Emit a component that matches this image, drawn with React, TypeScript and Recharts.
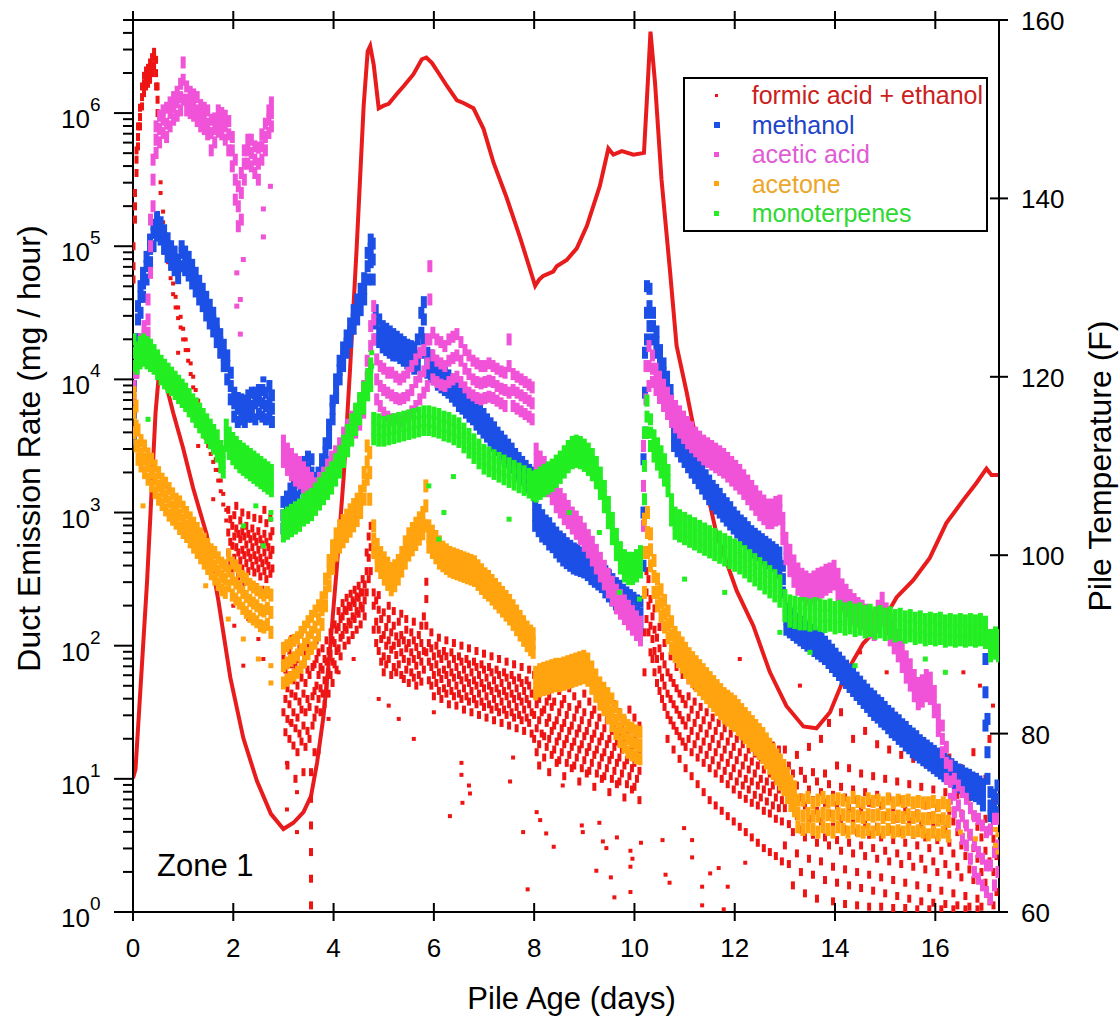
import React from 'react';
import { ComposedChart, Scatter, Line, XAxis, YAxis, Legend } from 'recharts';

const FONT = '"Liberation Sans", Arial, Helvetica, sans-serif';

// axis ticks
const dayTicks = [0, 2, 4, 6, 8, 10, 12, 14, 16];
const tempTicks = [60, 80, 100, 120, 140, 160];
const decades = [1, 10, 100, 1e3, 1e4, 1e5, 1e6];
const rateTicks = decades
  .flatMap((d) => [1, 2, 3, 4, 5, 6, 7, 8, 9].map((m) => m * d))
  .filter((v) => v <= 5e6);

// pile temperature (F) against pile age (days)
const tempDays = [
  0, 0.05, 0.28, 0.45, 0.53, 0.62, 0.8, 1.0, 1.2, 1.47, 1.7, 1.94, 2.2, 2.47, 2.75, 3.0, 3.2, 3.4, 3.55,
  3.67, 3.8, 3.93, 4.07, 4.2, 4.33, 4.46, 4.6, 4.68, 4.73, 4.8, 4.9, 5.0, 5.1, 5.26, 5.4, 5.59, 5.76,
  5.85, 5.96, 6.1, 6.26, 6.46, 6.59, 6.79, 6.99, 7.19, 7.45, 7.72, 8.02, 8.1, 8.18, 8.38, 8.45, 8.65,
  8.85, 9.05, 9.31, 9.48, 9.58, 9.75, 9.98, 10.19, 10.26, 10.32, 10.41, 10.54, 10.71, 10.84, 11.04,
  11.31, 11.64, 12.04, 12.37, 12.7, 13.03, 13.37, 13.63, 13.9, 14.23, 14.56, 14.9, 15.23, 15.56, 15.89,
  16.22, 16.56, 16.82, 17.02, 17.12, 17.25,
];
const tempF = [
  75, 76, 97, 116, 121.2, 120, 116, 112, 107.5, 102.3, 95, 86.3, 79.5, 74.7, 71, 69.3, 70, 71.2, 73,
  76.7, 82, 89.5, 99, 108.7, 121, 134.4, 150.4, 156.5, 157.1, 155, 150.1, 150.4, 150.6, 151.7, 152.6,
  153.9, 155.6, 155.8, 155.2, 154, 152.6, 151, 150.7, 150.1, 147.8, 144, 140.1, 135.6, 130.2, 130.9,
  131.3, 131.8, 132.4, 133.1, 134.4, 136.9, 141.4, 145.6, 144.9, 145.3, 144.9, 145.1, 152.3, 158.7, 153,
  142.1, 131.8, 123.5, 118.3, 110.6, 102.3, 96, 92.1, 86.9, 83.1, 80.8, 80.6, 82.4, 86.9, 90.1, 92.1,
  95.3, 97.2, 99.7, 103.6, 106.2, 108.1, 109.7, 109, 109,
];

// emission rates as log10(mg/hour); each row: [day, reading, reading, ...]
const formicRows = [
  [0.01, 4.75, 4.85, 5.0], [0.04, 5.2, 5.3, 5.4], [0.07, 5.55, 5.65, 5.72], [0.1, 5.75, 5.82, 5.9],
  [0.14, 5.9, 5.97, 6.04], [0.18, 6.05, 6.12, 6.2], [0.22, 6.15, 6.22, 6.28], [0.26, 6.2, 6.26, 6.32],
  [0.3, 6.22, 6.28, 6.34], [0.34, 6.25, 6.32, 6.38], [0.38, 6.3, 6.36, 6.42], [0.42, 6.35, 6.42, 6.46],
  [0.46, 6.2, 6.3, 6.4], [0.49, 6.0, 6.1, 6.2],
  [0.55, 5.4, 5.48], [0.6, 5.18, 5.26], [0.65, 5.01, 5.09], [0.7, 4.88, 4.96], [0.75, 4.76, 4.84],
  [0.8, 4.64, 4.72], [0.85, 4.54, 4.62], [0.9, 4.46, 4.54], [0.95, 4.39, 4.47], [1.0, 4.3, 4.38],
  [1.05, 4.22, 4.3], [1.1, 4.14, 4.22], [1.15, 4.04, 4.12], [1.2, 3.94, 4.02], [1.25, 3.84, 3.92],
  [1.3, 3.76, 3.84], [1.35, 3.69, 3.77], [1.4, 3.62, 3.7], [1.45, 3.56, 3.64], [1.5, 3.5, 3.58],
  [1.55, 3.44, 3.52], [1.6, 3.38, 3.46], [1.65, 3.32, 3.4], [1.7, 3.24, 3.32], [1.75, 3.16, 3.24],
  [1.8, 3.06, 3.14], [1.86, 2.94, 3.02],
  [1.9, 2.7, 2.85, 3.02], [1.94, 2.62, 2.78, 2.95], [1.98, 2.75, 2.9, 2.58], [2.02, 2.66, 2.82, 2.98],
  [2.06, 2.6, 2.74, 2.88, 3.05], [2.1, 2.7, 2.84, 2.52], [2.14, 2.64, 2.8, 2.94], [2.18, 2.58, 2.72, 2.86, 3.0],
  [2.22, 2.68, 2.82, 2.48], [2.26, 2.62, 2.76, 2.9], [2.3, 2.56, 2.7, 2.84, 2.98], [2.34, 2.66, 2.8, 2.46],
  [2.38, 2.6, 2.74, 2.88], [2.42, 2.55, 2.68, 2.82, 2.96], [2.46, 2.64, 2.78, 2.44], [2.5, 2.58, 2.72, 2.86],
  [2.54, 2.52, 2.66, 2.8, 2.95], [2.58, 2.62, 2.76, 2.42], [2.62, 2.56, 2.7, 2.84, 3.02],
  [2.66, 2.5, 2.64, 2.78, 2.92], [2.7, 2.6, 2.74, 2.4], [2.74, 2.54, 2.68, 2.82, 2.96], [2.78, 2.58, 2.72, 2.86],
  [3.0, 1.5, 1.72, 1.9], [3.04, 1.35, 1.6, 1.82, 2.0], [3.08, 1.45, 1.68, 1.88, 1.1], [3.12, 1.3, 1.56, 1.78, 1.96],
  [3.16, 1.42, 1.64, 1.86, 2.05], [3.2, 1.25, 1.5, 1.74, 1.92], [3.24, 1.38, 1.62, 1.84, 1.0],
  [3.28, 1.2, 1.46, 1.7, 1.9], [3.32, 1.34, 1.58, 1.8, 1.98], [3.36, 1.28, 1.52, 1.76, 2.1],
  [3.4, 1.4, 1.64, 1.86, 1.05], [3.44, 1.24, 1.5, 1.72, 1.94], [3.48, 1.36, 1.6, 1.82, 2.02],
  [3.52, 1.3, 1.54, 1.78, 1.96], [3.55, 0.05, 0.25, 0.45, 0.65, 0.85, 1.05], [3.58, 1.4, 1.62, 1.84, 2.0],
  [3.62, 1.46, 1.66, 1.86, 1.2], [3.66, 1.52, 1.7, 1.9, 2.04],
  [3.7, 1.6, 1.78, 1.95], [3.74, 1.68, 1.84, 1.5], [3.78, 1.64, 1.82, 1.98], [3.82, 1.74, 1.9, 1.56],
  [3.86, 1.7, 1.88, 2.04], [3.9, 1.8, 1.96, 1.64], [3.94, 1.78, 1.94, 2.1], [3.98, 1.88, 2.04, 1.72],
  [4.02, 1.86, 2.02, 2.16], [4.06, 1.96, 2.12, 1.82], [4.1, 1.98, 2.14, 2.26], [4.14, 2.06, 2.2, 1.92],
  [4.18, 2.08, 2.22, 2.32], [4.22, 2.14, 2.27, 2.0], [4.26, 2.12, 2.26, 2.36], [4.3, 2.18, 2.3, 2.04],
  [4.34, 2.16, 2.29, 2.39], [4.38, 2.22, 2.34, 2.08], [4.42, 2.2, 2.32, 2.42], [4.46, 2.26, 2.37, 2.12],
  [4.5, 2.24, 2.36, 2.45], [4.54, 2.3, 2.4, 2.16], [4.58, 2.28, 2.4, 2.5], [4.62, 2.34, 2.46, 2.22],
  [4.66, 2.4, 2.56, 2.7], [4.7, 2.5, 2.66, 2.82], [4.74, 2.56, 2.74, 2.9],
  [4.8, 2.12, 2.3, 2.4], [4.85, 2.02, 2.18, 2.34], [4.9, 1.96, 2.12, 2.27, 2.38], [4.95, 2.05, 2.2, 1.88],
  [5.0, 1.92, 2.08, 2.25, 1.8], [5.05, 2.0, 2.14, 1.86], [5.1, 1.9, 2.04, 2.2, 2.3], [5.15, 1.97, 2.1, 1.78],
  [5.2, 1.84, 2.0, 2.15, 2.26], [5.25, 1.93, 2.07, 1.8], [5.3, 1.86, 2.02, 2.18], [5.35, 1.78, 1.95, 2.08, 2.24],
  [5.4, 1.9, 2.04, 1.75], [5.45, 1.82, 1.98, 2.12, 2.2], [5.5, 1.88, 2.02, 1.72], [5.55, 1.8, 1.95, 2.1],
  [5.6, 1.76, 1.9, 2.04, 2.18], [5.65, 1.85, 1.99, 1.7], [5.7, 1.78, 1.93, 2.08], [5.75, 1.73, 1.88, 2.02, 2.15],
  [5.8, 1.82, 1.96, 2.22], [5.85, 1.95, 2.15, 2.35, 2.48], [5.9, 1.74, 1.88, 2.02], [5.95, 1.7, 1.84, 1.98, 2.1],
  [6.0, 1.78, 1.92, 1.62], [6.05, 1.72, 1.86, 2.0], [6.1, 1.66, 1.8, 1.94, 2.06], [6.15, 1.75, 1.9, 1.6],
  [6.2, 1.68, 1.82, 1.96], [6.25, 1.64, 1.78, 1.92, 2.04], [6.3, 1.72, 1.86, 1.56], [6.35, 1.66, 1.8, 1.95],
  [6.4, 1.62, 1.76, 1.9, 2.02], [6.45, 1.7, 1.84, 1.55], [6.5, 1.64, 1.78, 1.92], [6.55, 1.6, 1.74, 1.88, 2.0],
  [6.6, 1.68, 1.82, 1.52], [6.65, 1.62, 1.76, 1.9], [6.7, 1.58, 1.72, 1.86, 1.98], [6.75, 1.66, 1.8, 1.5],
  [6.8, 1.6, 1.74, 1.88], [6.85, 1.56, 1.7, 1.84, 1.96], [6.9, 1.64, 1.78, 1.48], [6.95, 1.58, 1.72, 1.86],
  [7.0, 1.54, 1.68, 1.82, 1.94], [7.05, 1.62, 1.76, 1.46], [7.1, 1.56, 1.7, 1.84], [7.15, 1.52, 1.66, 1.8, 1.92],
  [7.2, 1.6, 1.74, 1.44], [7.25, 1.54, 1.68, 1.82], [7.3, 1.5, 1.64, 1.78, 1.9], [7.35, 1.58, 1.72, 1.42],
  [7.4, 1.52, 1.66, 1.8], [7.45, 1.48, 1.62, 1.76, 1.88], [7.5, 1.56, 1.7, 1.4], [7.55, 1.5, 1.64, 1.78],
  [7.6, 1.46, 1.6, 1.74, 1.86], [7.65, 1.54, 1.68, 1.38], [7.7, 1.48, 1.62, 1.76], [7.75, 1.44, 1.58, 1.72, 1.84],
  [7.8, 1.52, 1.66, 1.36], [7.85, 1.46, 1.6, 1.74], [7.9, 1.42, 1.56, 1.7, 1.82], [7.95, 1.5, 1.64, 1.34],
  [8.0, 1.3, 1.48, 1.64, 1.78], [8.05, 1.2, 1.38, 1.56], [8.1, 1.26, 1.44, 1.6, 1.1], [8.15, 1.34, 1.5, 1.68],
  [8.2, 1.16, 1.32, 1.52, 1.7], [8.25, 1.24, 1.42, 1.58], [8.3, 1.3, 1.46, 1.62, 1.05], [8.35, 1.18, 1.36, 1.54],
  [8.4, 1.22, 1.4, 1.58, 1.72], [8.45, 1.28, 1.44, 1.12], [8.5, 1.14, 1.32, 1.5, 1.66], [8.55, 1.2, 1.38, 1.56],
  [8.6, 1.26, 1.42, 1.6, 1.02], [8.65, 1.12, 1.3, 1.48], [8.7, 1.18, 1.36, 1.54, 1.68], [8.75, 1.24, 1.4, 1.08],
  [8.8, 1.1, 1.28, 1.46, 1.62], [8.85, 1.16, 1.34, 1.52], [8.9, 1.22, 1.38, 1.56, 0.98], [8.95, 1.08, 1.26, 1.44],
  [9.0, 1.14, 1.32, 1.5, 1.64], [9.05, 1.2, 1.36, 1.04], [9.1, 1.06, 1.24, 1.42, 1.58], [9.15, 1.12, 1.3, 1.48],
  [9.2, 1.18, 1.34, 1.52, 0.94], [9.25, 1.04, 1.22, 1.4], [9.3, 1.1, 1.28, 1.46, 1.6], [9.35, 1.16, 1.32, 1.0],
  [9.4, 1.02, 1.2, 1.38, 1.54], [9.45, 1.08, 1.26, 1.44], [9.5, 1.14, 1.3, 1.48, 0.9], [9.55, 1.0, 1.18, 1.36],
  [9.6, 1.06, 1.24, 1.42, 1.56], [9.65, 1.12, 1.28, 0.96], [9.7, 0.98, 1.16, 1.34, 1.5], [9.75, 1.04, 1.22, 1.4],
  [9.8, 1.1, 1.26, 1.44, 0.86], [9.85, 0.96, 1.14, 1.32], [9.9, 1.02, 1.2, 1.38, 1.52], [9.95, 1.08, 1.24, 0.92],
  [10.0, 0.94, 1.12, 1.3, 1.46], [10.05, 1.0, 1.18, 1.36], [10.1, 1.06, 1.22, 1.4, 0.84],
  [10.2, 1.8, 2.1, 2.4], [10.24, 2.2, 2.4, 2.56], [10.28, 2.1, 2.3, 2.5], [10.32, 1.95, 2.15, 2.35],
  [10.36, 1.9, 2.05, 2.22], [10.4, 1.8, 1.96, 2.12, 2.28], [10.45, 1.72, 1.9, 2.06], [10.5, 1.66, 1.82, 1.98, 2.14],
  [10.55, 1.6, 1.76, 1.92], [10.6, 1.54, 1.7, 1.86, 2.02], [10.66, 1.48, 1.64, 1.8, 1.3], [10.72, 1.44, 1.6, 1.76, 1.92],
  [10.78, 1.4, 1.56, 1.72, 1.22], [10.84, 1.36, 1.52, 1.68, 1.84], [10.9, 1.32, 1.48, 1.64, 1.15],
  [10.96, 1.28, 1.44, 1.6, 1.78], [11.02, 1.24, 1.4, 1.56, 1.08], [11.08, 1.3, 1.46, 1.62, 1.74],
  [11.14, 1.2, 1.36, 1.52, 1.02], [11.2, 1.26, 1.42, 1.58, 1.7], [11.26, 1.16, 1.32, 1.48, 0.96],
  [11.32, 1.22, 1.38, 1.54, 1.66], [11.38, 1.12, 1.28, 1.44, 0.9], [11.44, 1.18, 1.34, 1.5, 1.62],
  [11.5, 1.08, 1.24, 1.4, 0.84], [11.56, 1.14, 1.3, 1.46, 1.58], [11.62, 1.04, 1.2, 1.36, 0.8],
  [11.68, 1.1, 1.26, 1.42, 1.55], [11.74, 1.0, 1.16, 1.32, 0.76], [11.8, 1.06, 1.22, 1.38, 1.52],
  [11.86, 0.96, 1.12, 1.28, 0.72], [11.92, 1.02, 1.18, 1.34, 1.48], [11.98, 0.92, 1.08, 1.24, 0.68],
  [12.04, 0.98, 1.14, 1.3, 1.45], [12.1, 0.88, 1.04, 1.2, 0.64], [12.16, 0.95, 1.1, 1.26, 1.42],
  [12.22, 0.85, 1.0, 1.16, 0.6], [12.28, 0.92, 1.07, 1.22, 1.38], [12.34, 0.82, 0.98, 1.13, 0.56],
  [12.4, 0.88, 1.04, 1.19, 1.35], [12.46, 0.8, 0.95, 1.1, 0.52], [12.52, 0.86, 1.0, 1.16, 1.32],
  [12.58, 0.76, 0.92, 1.07, 0.48], [12.64, 0.83, 0.98, 1.13, 1.28], [12.7, 0.74, 0.9, 1.04, 0.45],
  [12.76, 0.8, 0.95, 1.1, 1.25], [12.82, 0.7, 0.86, 1.0, 0.42], [12.88, 0.78, 0.92, 1.06, 1.22],
  [12.94, 0.68, 0.84, 0.98, 0.38],
  [13.0, 0.5, 0.78, 0.98, 1.22], [13.08, 0.36, 0.66, 0.9, 1.1], [13.16, 0.6, 0.84, 1.04, 0.2],
  [13.24, 0.44, 0.72, 0.95, 1.18], [13.32, 0.3, 0.62, 0.86, 1.06], [13.4, 0.56, 0.8, 1.0, 0.14],
  [13.48, 0.4, 0.7, 0.92, 1.24], [13.56, 0.28, 0.58, 0.84, 1.05], [13.64, 0.52, 0.76, 0.98, 0.1],
  [13.72, 0.38, 0.68, 0.9, 1.3], [13.8, 0.24, 0.56, 0.82, 1.04], [13.88, 0.5, 0.74, 0.96, 1.42],
  [13.96, 0.34, 0.64, 0.88, 0.08], [14.04, 0.22, 0.54, 0.8, 1.1], [14.12, 0.46, 0.7, 0.94, 1.5],
  [14.2, 0.32, 0.62, 0.86, 0.06], [14.28, 0.2, 0.52, 0.78, 1.08], [14.36, 0.44, 0.68, 0.92, 1.3],
  [14.44, 0.3, 0.6, 0.84, 0.05], [14.52, 0.18, 0.5, 0.76, 1.04], [14.6, 0.42, 0.66, 0.9, 1.36],
  [14.68, 0.28, 0.58, 0.82, 0.04], [14.76, 0.16, 0.48, 0.74, 1.02], [14.84, 0.4, 0.64, 0.88, 1.26],
  [14.92, 0.26, 0.56, 0.8, 0.04], [15.0, 0.14, 0.46, 0.72, 1.0], [15.08, 0.38, 0.62, 0.86, 1.22],
  [15.16, 0.24, 0.54, 0.78, 0.03], [15.24, 0.12, 0.44, 0.7, 0.98], [15.32, 0.36, 0.6, 0.84, 1.18],
  [15.4, 0.22, 0.52, 0.76, 0.03], [15.48, 0.1, 0.42, 0.68, 0.96], [15.56, 0.34, 0.58, 0.82, 1.15],
  [15.64, 0.2, 0.5, 0.74, 0.02], [15.72, 0.08, 0.4, 0.66, 0.94], [15.8, 0.32, 0.56, 0.8, 1.12],
  [15.88, 0.18, 0.48, 0.72, 0.02], [15.96, 0.07, 0.38, 0.64, 0.92], [16.04, 0.3, 0.54, 0.78, 1.1],
  [16.12, 0.16, 0.46, 0.7, 0.02], [16.2, 0.06, 0.36, 0.62, 0.9], [16.28, 0.28, 0.52, 0.76, 1.16],
  [16.36, 0.14, 0.44, 0.68, 0.02], [16.44, 0.05, 0.34, 0.6, 0.88], [16.52, 0.26, 0.5, 0.74, 1.08],
  [16.6, 0.12, 0.42, 0.66, 0.02], [16.68, 0.04, 0.32, 0.58, 0.86], [16.76, 0.24, 0.48, 0.72, 1.2],
  [16.84, 0.1, 0.4, 0.64, 0.02], [16.92, 0.04, 0.3, 0.56, 0.84], [17.0, 0.22, 0.46, 0.7, 1.0],
  [17.08, 0.08, 0.38, 0.62, 1.3], [17.16, 0.05, 0.3, 0.55, 0.85], [17.22, 0.15, 0.42, 0.7],
];
// scattered formic acid readings away from the main cloud
const formicStray = [
  [6.32, 0.72], [6.57, 0.82], [6.55, 1.03], [6.7, 0.95], [6.72, 0.89], [6.55, 1.12], [7.58, 1.16],
  [7.78, 0.6], [7.87, 0.17], [8.05, 0.75], [8.12, 0.69], [8.24, 0.59], [8.39, 0.49], [8.57, 0.95],
  [8.95, 0.65], [8.97, 0.6], [9.24, 0.31], [9.3, 0.67], [9.37, 0.53], [9.44, 0.48], [9.53, 0.26],
  [9.6, 0.11], [9.65, 0.56], [9.92, 0.15], [9.92, 0.34], [9.92, 0.46], [9.96, 0.4], [10.13, 0.52],
  [10.56, 0.54], [10.62, 0.28], [10.7, 0.22], [10.99, 0.63], [11.15, 0.54], [11.15, 0.41],
  [11.35, 0.19], [11.35, 0.05], [11.51, 0.29], [11.68, 0.33], [11.78, 0.02], [11.86, 0.19],
  [12.21, 0.37], [7.52, 0.98], [5.3, 1.45], [5.6, 1.3], [6.0, 1.5], [4.9, 1.6], [5.1, 1.55],
  [3.07, 1.12], [3.27, 0.9], [3.14, 1.42], [3.07, 0.77], [3.27, 0.6], [2.0, 2.3], [2.02, 2.15],
  [2.3, 2.2], [2.5, 2.05], [2.7, 2.25], [2.6, 1.9], [2.2, 1.85], [1.6, 3.1], [0.9, 4.2], [1.3, 3.5],
  [12.1, 1.9], [13.3, 1.7], [14.16, 1.85], [14.5, 1.95], [15.03, 1.8], [15.43, 1.75], [15.9, 1.6],
  [16.56, 1.8], [16.89, 1.7], [17.15, 1.55], [3.7, 1.2], [3.9, 1.45], [4.1, 1.8], [4.4, 1.9],
];

const methanolRows = [
  [0.02, 3.55, 3.75, 3.95], [0.05, 4.05, 4.2, 4.3], [0.1, 4.3, 4.45, 4.55], [0.15, 4.5, 4.62, 4.7],
  [0.2, 4.62, 4.72, 4.8], [0.27, 4.75, 4.85, 4.92], [0.34, 4.88, 4.98, 5.05], [0.41, 5.0, 5.1, 5.16],
  [0.48, 5.08, 5.15, 5.22], [0.55, 5.05, 5.12, 5.18], [0.62, 4.98, 5.06, 5.12], [0.69, 4.92, 5.0, 5.06],
  [0.76, 4.86, 4.94, 5.0], [0.83, 4.82, 4.9, 4.96], [0.9, 4.76, 4.84, 4.9], [0.97, 4.85, 4.95, 5.0],
  [1.04, 4.82, 4.9, 4.96], [1.11, 4.78, 4.85, 4.92], [1.18, 4.72, 4.8, 4.86], [1.25, 4.66, 4.74, 4.8],
  [1.32, 4.6, 4.68, 4.74], [1.39, 4.55, 4.62, 4.68], [1.46, 4.48, 4.56, 4.62], [1.53, 4.42, 4.5, 4.56],
  [1.6, 4.36, 4.44, 4.5], [1.67, 4.28, 4.36, 4.42], [1.74, 4.2, 4.28, 4.34], [1.81, 4.1, 4.18, 4.26],
  [1.88, 4.0, 4.1, 4.18], [1.95, 3.85, 3.95, 4.05], [2.02, 3.72, 3.82, 3.9], [2.09, 3.68, 3.78, 3.86],
  [2.16, 3.7, 3.78, 3.85], [2.23, 3.68, 3.76, 3.84], [2.3, 3.72, 3.8, 3.88], [2.37, 3.72, 3.8, 3.9],
  [2.44, 3.7, 3.82, 3.9], [2.51, 3.74, 3.84, 3.92], [2.58, 3.72, 3.82, 3.92], [2.65, 3.7, 3.8, 3.9],
  [2.72, 3.72, 3.82, 3.95], [2.77, 3.68, 3.78, 3.88], [2.6, 4.0],
  [3.0, 2.88, 2.98, 3.08], [3.07, 2.95, 3.05, 3.12], [3.14, 3.0, 3.1, 3.18], [3.21, 3.08, 3.16, 3.24],
  [3.28, 3.12, 3.22, 3.3], [3.35, 3.18, 3.27, 3.34], [3.42, 3.22, 3.3, 3.38], [3.49, 3.25, 3.33, 3.42],
  [3.56, 3.2, 3.3, 3.4], [3.63, 3.08, 3.16, 3.26], [3.7, 3.12, 3.22, 3.3], [3.77, 3.25, 3.33, 3.4],
  [3.84, 3.38, 3.45, 3.52], [3.91, 3.52, 3.6, 3.66], [3.98, 3.7, 3.78, 3.84], [4.05, 3.86, 3.93, 4.0],
  [4.12, 4.0, 4.07, 4.14], [4.19, 4.1, 4.17, 4.24], [4.26, 4.2, 4.27, 4.33], [4.33, 4.28, 4.35, 4.42],
  [4.4, 4.38, 4.45, 4.52], [4.47, 4.45, 4.52, 4.6], [4.54, 4.52, 4.6, 4.68], [4.61, 4.6, 4.68, 4.76],
  [4.68, 4.75, 4.85, 4.95], [4.74, 4.88, 4.98, 5.05], [4.78, 4.75, 4.9, 5.02],
  [4.84, 4.3, 4.42, 4.52], [4.91, 4.28, 4.36, 4.45], [4.98, 4.24, 4.32, 4.4], [5.05, 4.22, 4.3, 4.38],
  [5.12, 4.2, 4.28, 4.36], [5.19, 4.18, 4.26, 4.34], [5.26, 4.18, 4.25, 4.32], [5.33, 4.16, 4.24, 4.3],
  [5.4, 4.14, 4.22, 4.28], [5.47, 4.12, 4.2, 4.26], [5.54, 4.1, 4.18, 4.25], [5.61, 4.08, 4.16, 4.24],
  [5.68, 4.1, 4.18, 4.3], [5.75, 4.2, 4.35, 4.5], [5.8, 4.3, 4.45, 4.58], [5.87, 4.05, 4.12, 4.2],
  [5.94, 4.02, 4.1, 4.18], [6.01, 4.0, 4.07, 4.14], [6.08, 3.96, 4.04, 4.1], [6.15, 3.94, 4.01, 4.08],
  [6.22, 3.92, 3.98, 4.05], [6.29, 3.9, 3.96, 4.03], [6.36, 3.87, 3.94, 4.0], [6.43, 3.84, 3.91, 3.98],
  [6.5, 3.8, 3.88, 3.95], [6.57, 3.78, 3.85, 3.92], [6.64, 3.75, 3.82, 3.88], [6.71, 3.72, 3.79, 3.85],
  [6.78, 3.7, 3.76, 3.82], [6.85, 3.66, 3.73, 3.8], [6.92, 3.63, 3.7, 3.77], [6.99, 3.6, 3.67, 3.74],
  [7.06, 3.57, 3.64, 3.7], [7.13, 3.54, 3.61, 3.67], [7.2, 3.5, 3.57, 3.64], [7.27, 3.47, 3.54, 3.6],
  [7.34, 3.44, 3.51, 3.57], [7.41, 3.41, 3.47, 3.54], [7.48, 3.38, 3.44, 3.51], [7.55, 3.34, 3.41, 3.48],
  [7.62, 3.31, 3.38, 3.44], [7.69, 3.28, 3.34, 3.41], [7.76, 3.25, 3.31, 3.38], [7.83, 3.22, 3.28, 3.35],
  [7.9, 3.19, 3.25, 3.32], [7.97, 3.17, 3.23, 3.3],
  [8.02, 2.9, 2.98, 3.06], [8.09, 2.86, 2.94, 3.02], [8.16, 2.82, 2.9, 2.98], [8.23, 2.8, 2.87, 2.94],
  [8.3, 2.76, 2.84, 2.92], [8.37, 2.74, 2.81, 2.88], [8.44, 2.7, 2.78, 2.85], [8.51, 2.67, 2.74, 2.82],
  [8.58, 2.64, 2.72, 2.8], [8.65, 2.62, 2.7, 2.77], [8.72, 2.6, 2.67, 2.75], [8.79, 2.58, 2.65, 2.73],
  [8.86, 2.57, 2.64, 2.72], [8.93, 2.56, 2.63, 2.7], [9.0, 2.55, 2.62, 2.69], [9.07, 2.53, 2.6, 2.68],
  [9.14, 2.5, 2.58, 2.66], [9.21, 2.48, 2.56, 2.64], [9.28, 2.46, 2.53, 2.6], [9.35, 2.44, 2.51, 2.58],
  [9.42, 2.4, 2.48, 2.56], [9.49, 2.37, 2.45, 2.53], [9.56, 2.34, 2.42, 2.5], [9.63, 2.31, 2.39, 2.47],
  [9.7, 2.29, 2.37, 2.45], [9.77, 2.26, 2.34, 2.42], [9.84, 2.23, 2.31, 2.4], [9.91, 2.2, 2.29, 2.38],
  [9.98, 2.18, 2.27, 2.36], [10.05, 2.16, 2.25, 2.34], [10.12, 2.15, 2.24, 2.33],
  [10.18, 2.6, 3.0, 3.4], [10.21, 3.6, 3.9, 4.2], [10.25, 4.3, 4.5, 4.7], [10.3, 4.4, 4.55, 4.68],
  [10.37, 4.3, 4.4, 4.5], [10.44, 4.2, 4.28, 4.36], [10.51, 4.08, 4.15, 4.22], [10.58, 3.98, 4.05, 4.12],
  [10.65, 3.88, 3.95, 4.02], [10.72, 3.78, 3.85, 3.92], [10.79, 3.5, 3.58, 3.66], [10.86, 3.46, 3.53, 3.6],
  [10.93, 3.42, 3.49, 3.56], [11.0, 3.38, 3.45, 3.52], [11.07, 3.34, 3.41, 3.48], [11.14, 3.3, 3.37, 3.44],
  [11.21, 3.26, 3.33, 3.4], [11.28, 3.22, 3.29, 3.36], [11.35, 3.18, 3.25, 3.32], [11.42, 3.14, 3.21, 3.28],
  [11.49, 3.1, 3.17, 3.24], [11.56, 3.06, 3.13, 3.2], [11.63, 3.03, 3.1, 3.17], [11.7, 3.0, 3.07, 3.14],
  [11.77, 2.97, 3.04, 3.1], [11.84, 2.94, 3.0, 3.07], [11.91, 2.91, 2.97, 3.04], [11.98, 2.88, 2.94, 3.0],
  [12.05, 2.85, 2.91, 2.97], [12.12, 2.82, 2.88, 2.94], [12.19, 2.79, 2.85, 2.92], [12.26, 2.76, 2.82, 2.89],
  [12.33, 2.73, 2.8, 2.86], [12.4, 2.7, 2.77, 2.84], [12.47, 2.68, 2.75, 2.82], [12.54, 2.66, 2.73, 2.8],
  [12.61, 2.64, 2.7, 2.78], [12.68, 2.62, 2.68, 2.76], [12.75, 2.6, 2.66, 2.74], [12.82, 2.58, 2.64, 2.72],
  [12.89, 2.55, 2.62, 2.7], [12.96, 2.4, 2.5, 2.6], [13.03, 2.12, 2.2, 2.28], [13.1, 2.1, 2.17, 2.24],
  [13.17, 2.08, 2.15, 2.22], [13.24, 2.06, 2.13, 2.2], [13.31, 2.04, 2.11, 2.18], [13.38, 2.02, 2.09, 2.16],
  [13.45, 2.0, 2.07, 2.14], [13.52, 1.98, 2.05, 2.12], [13.59, 1.96, 2.03, 2.1], [13.66, 1.94, 2.01, 2.08],
  [13.73, 1.92, 1.99, 2.06], [13.8, 1.9, 1.96, 2.03], [13.87, 1.87, 1.93, 2.0], [13.94, 1.84, 1.9, 1.97],
  [14.01, 1.81, 1.87, 1.94], [14.08, 1.78, 1.84, 1.91], [14.15, 1.75, 1.81, 1.88], [14.22, 1.72, 1.78, 1.85],
  [14.29, 1.69, 1.75, 1.82], [14.36, 1.66, 1.72, 1.79], [14.43, 1.63, 1.69, 1.76], [14.5, 1.6, 1.66, 1.73],
  [14.57, 1.57, 1.63, 1.7], [14.64, 1.54, 1.6, 1.67], [14.71, 1.51, 1.57, 1.64], [14.78, 1.48, 1.55, 1.62],
  [14.85, 1.46, 1.52, 1.59], [14.92, 1.43, 1.5, 1.57], [14.99, 1.41, 1.47, 1.54], [15.06, 1.38, 1.44, 1.51],
  [15.13, 1.35, 1.42, 1.49], [15.2, 1.33, 1.39, 1.46], [15.27, 1.3, 1.37, 1.44], [15.34, 1.28, 1.34, 1.41],
  [15.41, 1.25, 1.32, 1.39], [15.48, 1.23, 1.29, 1.36], [15.55, 1.2, 1.27, 1.34], [15.62, 1.18, 1.25, 1.32],
  [15.69, 1.16, 1.22, 1.29], [15.76, 1.14, 1.2, 1.27], [15.83, 1.12, 1.18, 1.25], [15.9, 1.1, 1.16, 1.23],
  [15.97, 1.08, 1.14, 1.21], [16.04, 1.06, 1.12, 1.19], [16.11, 1.04, 1.1, 1.17], [16.18, 1.02, 1.08, 1.15],
  [16.25, 1.0, 1.06, 1.13], [16.32, 0.98, 1.04, 1.11], [16.39, 0.96, 1.02, 1.09], [16.46, 0.94, 1.0, 1.07],
  [16.53, 0.93, 0.99, 1.06], [16.6, 0.91, 0.97, 1.04], [16.67, 0.9, 0.96, 1.03], [16.74, 0.88, 0.94, 1.01],
  [16.81, 0.87, 0.93, 1.0], [16.88, 0.85, 0.91, 0.98], [16.95, 0.8, 0.88, 0.96], [17.0, 1.4, 1.65, 1.9],
  [17.04, 1.0, 1.2, 1.45], [17.1, 0.72, 0.8, 0.9], [17.17, 0.7, 0.78, 0.88], [17.24, 0.75, 0.85, 0.95],
];

const aceticRows = [
  [0.02, 3.85, 3.95, 4.05], [0.08, 4.05, 4.12, 4.2], [0.15, 4.15, 4.22, 4.3], [0.22, 4.25, 4.32, 4.4],
  [0.3, 4.35, 4.45, 4.6], [0.35, 4.8, 5.0, 5.2], [0.4, 5.3, 5.5, 5.65], [0.46, 5.7, 5.8, 5.9],
  [0.53, 5.78, 5.88, 5.98], [0.6, 5.85, 5.95, 6.02], [0.67, 5.82, 5.92, 6.04], [0.74, 5.9, 6.0, 6.08],
  [0.81, 5.95, 6.04, 6.12], [0.88, 5.98, 6.08, 6.16], [0.95, 6.02, 6.12, 6.22], [1.0, 6.1, 6.25, 6.38],
  [1.07, 6.02, 6.1, 6.2], [1.14, 6.0, 6.08, 6.16], [1.21, 5.98, 6.06, 6.14], [1.28, 5.94, 6.02, 6.12],
  [1.35, 5.9, 5.98, 6.06], [1.42, 5.88, 5.96, 6.04], [1.49, 5.84, 5.92, 6.02], [1.56, 5.72, 5.85, 5.95],
  [1.63, 5.78, 5.88, 5.96], [1.7, 5.86, 5.94, 6.02], [1.77, 5.84, 5.92, 6.0], [1.84, 5.8, 5.9, 5.98],
  [1.91, 5.72, 5.84, 5.94], [1.98, 5.6, 5.72, 5.82], [2.04, 5.35, 5.5, 5.65], [2.1, 5.15, 5.3, 5.45],
  [2.16, 5.2, 5.4, 5.55], [2.22, 5.5, 5.62, 5.72], [2.29, 5.62, 5.72, 5.8], [2.36, 5.6, 5.7, 5.8],
  [2.43, 5.55, 5.65, 5.75], [2.5, 5.5, 5.62, 5.74], [2.57, 5.65, 5.75, 5.84], [2.64, 5.72, 5.82, 5.92],
  [2.71, 5.85, 5.95, 6.02], [2.76, 5.9, 6.0, 6.08], [2.07, 4.55, 4.8], [2.14, 4.34, 4.6],
  [2.2, 4.9], [2.6, 5.07, 5.28], [2.74, 5.45],
  [3.0, 3.38, 3.46, 3.54], [3.08, 3.32, 3.4, 3.48], [3.16, 3.28, 3.36, 3.44], [3.24, 3.24, 3.32, 3.4],
  [3.32, 3.22, 3.3, 3.38], [3.4, 3.18, 3.26, 3.34], [3.48, 3.14, 3.22, 3.3], [3.56, 3.1, 3.18, 3.26],
  [3.64, 3.06, 3.14, 3.22], [3.72, 3.1, 3.18, 3.26], [3.8, 3.14, 3.22, 3.3], [3.88, 3.2, 3.28, 3.36],
  [3.96, 3.26, 3.34, 3.42], [4.04, 3.3, 3.38, 3.46], [4.12, 3.36, 3.44, 3.52], [4.2, 3.44, 3.52, 3.6],
  [4.28, 3.5, 3.58, 3.66], [4.36, 3.55, 3.63, 3.72], [4.44, 3.6, 3.68, 3.76], [4.52, 3.66, 3.75, 3.84],
  [4.6, 3.75, 3.85, 3.95], [4.67, 3.9, 4.02, 4.14], [4.74, 4.1, 4.25, 4.4], [4.8, 4.3, 4.45, 4.55],
  [4.86, 3.85, 4.0, 4.15], [4.93, 3.8, 3.95, 4.1], [5.0, 3.75, 3.92, 4.08], [5.08, 3.72, 3.9, 4.05],
  [5.16, 3.7, 3.88, 4.05], [5.24, 3.7, 3.86, 4.02], [5.32, 3.68, 3.85, 4.0], [5.4, 3.7, 3.86, 4.02],
  [5.48, 3.72, 3.88, 4.05], [5.56, 3.76, 3.92, 4.1], [5.64, 3.8, 3.98, 4.15], [5.72, 3.85, 4.02, 4.2],
  [5.8, 3.9, 4.06, 4.22], [5.87, 3.95, 4.12, 4.3], [5.92, 4.3, 4.6, 4.85], [5.98, 4.0, 4.18, 4.35],
  [6.06, 3.98, 4.14, 4.3], [6.14, 3.96, 4.12, 4.28], [6.22, 3.95, 4.1, 4.25], [6.3, 3.98, 4.14, 4.3],
  [6.38, 4.0, 4.16, 4.32], [6.46, 4.02, 4.18, 4.34], [6.54, 3.98, 4.14, 4.28], [6.62, 3.94, 4.08, 4.22],
  [6.7, 3.9, 4.04, 4.18], [6.78, 3.88, 4.0, 4.14], [6.86, 3.86, 3.98, 4.12], [6.94, 3.85, 3.97, 4.1],
  [7.02, 3.86, 3.98, 4.1], [7.1, 3.87, 3.99, 4.12], [7.18, 3.86, 3.98, 4.1], [7.26, 3.84, 3.95, 4.08],
  [7.34, 3.82, 3.93, 4.06], [7.42, 3.8, 3.92, 4.05], [7.5, 3.9, 4.1, 4.3], [7.58, 3.8, 3.92, 4.04],
  [7.66, 3.78, 3.9, 4.02], [7.74, 3.76, 3.88, 4.0], [7.82, 3.74, 3.86, 3.98], [7.9, 3.72, 3.84, 3.96],
  [7.96, 3.7, 3.82, 3.94],
  [8.04, 3.32, 3.4, 3.48], [8.12, 3.26, 3.34, 3.42], [8.2, 3.22, 3.3, 3.38], [8.28, 3.16, 3.24, 3.32],
  [8.36, 3.1, 3.18, 3.26], [8.44, 3.04, 3.12, 3.2], [8.52, 3.0, 3.07, 3.14], [8.6, 2.95, 3.02, 3.1],
  [8.68, 2.92, 2.98, 3.05], [8.76, 2.88, 2.94, 3.0], [8.84, 2.84, 2.9, 2.97], [8.92, 2.8, 2.86, 2.93],
  [9.0, 2.75, 2.81, 2.88], [9.08, 2.7, 2.76, 2.83], [9.16, 2.64, 2.71, 2.78], [9.24, 2.58, 2.65, 2.72],
  [9.32, 2.52, 2.59, 2.66], [9.4, 2.46, 2.53, 2.6], [9.48, 2.4, 2.47, 2.54], [9.56, 2.34, 2.41, 2.48],
  [9.64, 2.28, 2.35, 2.42], [9.72, 2.24, 2.31, 2.38], [9.8, 2.2, 2.27, 2.34], [9.88, 2.16, 2.23, 2.3],
  [9.96, 2.12, 2.19, 2.26], [10.04, 2.08, 2.15, 2.22], [10.12, 2.04, 2.11, 2.18],
  [10.18, 2.9, 3.2, 3.5], [10.23, 3.6, 3.85, 4.1], [10.29, 3.95, 4.1, 4.25], [10.36, 3.98, 4.08, 4.18],
  [10.43, 3.92, 4.0, 4.08], [10.5, 3.86, 3.94, 4.02], [10.58, 3.8, 3.88, 3.96], [10.66, 3.74, 3.82, 3.9],
  [10.74, 3.68, 3.76, 3.84], [10.82, 3.64, 3.72, 3.8], [10.9, 3.6, 3.68, 3.76], [10.98, 3.56, 3.64, 3.72],
  [11.06, 3.52, 3.6, 3.68], [11.14, 3.49, 3.56, 3.64], [11.22, 3.46, 3.53, 3.6], [11.3, 3.43, 3.5, 3.57],
  [11.38, 3.4, 3.47, 3.54], [11.46, 3.38, 3.45, 3.52], [11.54, 3.36, 3.43, 3.5], [11.62, 3.34, 3.41, 3.48],
  [11.7, 3.32, 3.39, 3.46], [11.78, 3.3, 3.37, 3.44], [11.86, 3.27, 3.34, 3.41], [11.94, 3.24, 3.31, 3.38],
  [12.02, 3.21, 3.28, 3.35], [12.1, 3.18, 3.25, 3.32], [12.18, 3.14, 3.21, 3.28], [12.26, 3.1, 3.17, 3.24],
  [12.34, 3.06, 3.13, 3.2], [12.42, 3.02, 3.09, 3.16], [12.5, 2.98, 3.05, 3.12], [12.58, 2.95, 3.02, 3.09],
  [12.66, 2.92, 2.99, 3.06], [12.74, 2.92, 2.99, 3.06], [12.82, 2.94, 3.01, 3.08], [12.9, 2.95, 3.02, 3.09],
  [12.96, 2.8, 2.88, 2.96], [13.02, 2.65, 2.73, 2.81], [13.1, 2.56, 2.64, 2.72], [13.18, 2.48, 2.56, 2.64],
  [13.26, 2.42, 2.5, 2.58], [13.34, 2.38, 2.46, 2.54], [13.42, 2.36, 2.44, 2.52], [13.5, 2.34, 2.42, 2.5],
  [13.58, 2.36, 2.44, 2.52], [13.66, 2.38, 2.46, 2.54], [13.74, 2.4, 2.47, 2.55], [13.82, 2.42, 2.49, 2.57],
  [13.9, 2.44, 2.51, 2.58], [13.98, 2.46, 2.53, 2.6], [14.06, 2.38, 2.46, 2.54], [14.14, 2.3, 2.38, 2.46],
  [14.22, 2.26, 2.34, 2.42], [14.3, 2.22, 2.3, 2.38], [14.38, 2.2, 2.27, 2.35], [14.46, 2.18, 2.25, 2.32],
  [14.54, 2.16, 2.23, 2.3], [14.62, 2.13, 2.2, 2.27], [14.7, 2.1, 2.17, 2.24], [14.78, 2.08, 2.15, 2.22],
  [14.86, 2.14, 2.22, 2.3], [14.94, 2.2, 2.28, 2.36], [15.02, 2.12, 2.2, 2.28], [15.1, 2.04, 2.12, 2.2],
  [15.18, 1.98, 2.06, 2.14], [15.26, 1.92, 2.0, 2.08], [15.34, 1.84, 1.92, 2.0], [15.42, 1.76, 1.84, 1.92],
  [15.5, 1.7, 1.78, 1.86], [15.58, 1.62, 1.7, 1.78], [15.66, 1.56, 1.64, 1.72], [15.74, 1.58, 1.66, 1.74],
  [15.82, 1.62, 1.7, 1.78], [15.9, 1.6, 1.68, 1.76], [15.98, 1.5, 1.58, 1.66], [16.06, 1.36, 1.44, 1.52],
  [16.14, 1.2, 1.3, 1.4], [16.22, 1.0, 1.12, 1.24], [16.3, 0.85, 0.98, 1.1], [16.38, 0.75, 0.88, 1.0],
  [16.46, 0.65, 0.8, 0.95], [16.54, 0.55, 0.72, 0.9], [16.62, 0.5, 0.65, 0.85], [16.7, 0.4, 0.58, 0.78],
  [16.78, 0.3, 0.5, 0.72], [16.86, 0.25, 0.45, 0.7], [16.94, 0.2, 0.4, 0.65], [17.02, 0.15, 0.35, 0.6],
  [17.1, 0.1, 0.35, 0.62], [17.18, 0.2, 0.45, 0.7], [17.25, 0.3, 0.5, 0.7],
];

const acetoneRows = [
  [0.02, 3.6, 3.75, 3.9], [0.06, 3.5, 3.65, 3.8], [0.1, 3.4, 3.5, 3.62], [0.16, 3.35, 3.44, 3.54],
  [0.23, 3.3, 3.4, 3.5], [0.3, 3.25, 3.35, 3.44], [0.37, 3.2, 3.3, 3.4], [0.44, 3.15, 3.25, 3.35],
  [0.51, 3.1, 3.2, 3.3], [0.58, 3.06, 3.16, 3.25], [0.65, 3.02, 3.12, 3.22], [0.72, 2.98, 3.08, 3.18],
  [0.79, 2.95, 3.04, 3.14], [0.86, 2.92, 3.01, 3.1], [0.93, 2.88, 2.98, 3.08], [1.0, 2.85, 2.94, 3.04],
  [1.07, 2.82, 2.9, 3.0], [1.14, 2.78, 2.87, 2.96], [1.21, 2.74, 2.83, 2.92], [1.28, 2.7, 2.79, 2.88],
  [1.35, 2.66, 2.75, 2.84], [1.42, 2.62, 2.71, 2.8], [1.49, 2.58, 2.67, 2.76], [1.56, 2.54, 2.63, 2.72],
  [1.63, 2.5, 2.6, 2.7], [1.7, 2.46, 2.56, 2.66], [1.77, 2.42, 2.52, 2.62], [1.84, 2.4, 2.5, 2.6],
  [1.91, 2.45, 2.56, 2.68], [1.98, 2.38, 2.5, 2.62], [2.05, 2.35, 2.47, 2.6], [2.12, 2.32, 2.44, 2.56],
  [2.19, 2.28, 2.4, 2.52], [2.26, 2.25, 2.37, 2.5], [2.33, 2.22, 2.34, 2.46], [2.4, 2.2, 2.32, 2.44],
  [2.47, 2.18, 2.3, 2.42], [2.54, 2.15, 2.27, 2.4], [2.61, 2.14, 2.26, 2.38], [2.68, 2.16, 2.28, 2.4],
  [2.75, 2.1, 2.25, 2.38], [1.45, 2.45], [1.9, 2.2], [2.2, 2.05], [2.5, 1.9], [2.75, 1.72, 1.85],
  [0.2, 3.05],
  [3.0, 1.72, 1.85, 1.98], [3.07, 1.74, 1.87, 2.0], [3.14, 1.76, 1.89, 2.02], [3.21, 1.78, 1.91, 2.04],
  [3.28, 1.8, 1.93, 2.06], [3.35, 1.84, 1.97, 2.1], [3.42, 1.88, 2.01, 2.14], [3.49, 1.94, 2.06, 2.18],
  [3.56, 1.98, 2.1, 2.22], [3.63, 2.02, 2.14, 2.26], [3.7, 2.08, 2.2, 2.3], [3.77, 2.16, 2.27, 2.36],
  [3.84, 2.3, 2.4, 2.5], [3.91, 2.45, 2.55, 2.64], [3.98, 2.58, 2.67, 2.75], [4.05, 2.68, 2.76, 2.84],
  [4.12, 2.74, 2.82, 2.9], [4.19, 2.78, 2.86, 2.94], [4.26, 2.82, 2.9, 2.98], [4.33, 2.86, 2.94, 3.02],
  [4.4, 2.9, 2.98, 3.06], [4.47, 2.94, 3.02, 3.1], [4.54, 3.0, 3.08, 3.16], [4.61, 3.1, 3.2, 3.3],
  [4.67, 3.25, 3.38, 3.5], [4.72, 3.1, 3.3, 3.45],
  [4.8, 2.7, 2.8, 2.9], [4.87, 2.6, 2.68, 2.76], [4.94, 2.55, 2.62, 2.7], [5.01, 2.5, 2.58, 2.66],
  [5.08, 2.46, 2.54, 2.62], [5.15, 2.42, 2.5, 2.58], [5.22, 2.45, 2.52, 2.6], [5.29, 2.5, 2.57, 2.64],
  [5.36, 2.56, 2.63, 2.7], [5.43, 2.62, 2.7, 2.78], [5.5, 2.68, 2.76, 2.84], [5.57, 2.72, 2.8, 2.88],
  [5.64, 2.76, 2.84, 2.92], [5.71, 2.8, 2.88, 2.96], [5.78, 2.84, 2.92, 3.0], [5.84, 2.9, 3.05, 3.2],
  [5.9, 2.74, 2.82, 2.9], [5.97, 2.7, 2.78, 2.86], [6.04, 2.66, 2.74, 2.82], [6.11, 2.62, 2.7, 2.78],
  [6.18, 2.6, 2.67, 2.74], [6.25, 2.58, 2.65, 2.72], [6.32, 2.56, 2.63, 2.7], [6.39, 2.55, 2.62, 2.69],
  [6.46, 2.54, 2.61, 2.68], [6.53, 2.53, 2.6, 2.67], [6.6, 2.52, 2.59, 2.66], [6.67, 2.51, 2.58, 2.65],
  [6.74, 2.5, 2.57, 2.64], [6.81, 2.49, 2.56, 2.63], [6.88, 2.46, 2.53, 2.6], [6.95, 2.43, 2.5, 2.57],
  [7.02, 2.4, 2.47, 2.54], [7.09, 2.38, 2.45, 2.52], [7.16, 2.35, 2.42, 2.49], [7.23, 2.32, 2.39, 2.46],
  [7.3, 2.29, 2.36, 2.43], [7.37, 2.26, 2.33, 2.4], [7.44, 2.23, 2.3, 2.37], [7.51, 2.2, 2.27, 2.34],
  [7.58, 2.16, 2.23, 2.3], [7.65, 2.12, 2.19, 2.26], [7.72, 2.08, 2.15, 2.22], [7.79, 2.04, 2.11, 2.18],
  [7.86, 2.0, 2.07, 2.14], [7.93, 1.97, 2.04, 2.11], [7.98, 1.95, 2.02, 2.09],
  [8.03, 1.64, 1.72, 1.8], [8.11, 1.66, 1.74, 1.82], [8.19, 1.67, 1.75, 1.83], [8.27, 1.68, 1.76, 1.84],
  [8.35, 1.69, 1.77, 1.85], [8.43, 1.7, 1.78, 1.86], [8.51, 1.7, 1.78, 1.86], [8.59, 1.71, 1.79, 1.87],
  [8.67, 1.72, 1.8, 1.88], [8.75, 1.73, 1.81, 1.89], [8.83, 1.74, 1.82, 1.9], [8.91, 1.75, 1.83, 1.91],
  [8.99, 1.76, 1.84, 1.92], [9.07, 1.74, 1.82, 1.9], [9.15, 1.68, 1.76, 1.84], [9.23, 1.62, 1.7, 1.78],
  [9.31, 1.56, 1.64, 1.72], [9.39, 1.52, 1.6, 1.68], [9.47, 1.46, 1.55, 1.64], [9.55, 1.4, 1.5, 1.6],
  [9.63, 1.34, 1.44, 1.54], [9.71, 1.28, 1.38, 1.48], [9.79, 1.24, 1.34, 1.44], [9.87, 1.2, 1.3, 1.4],
  [9.95, 1.18, 1.28, 1.38], [10.03, 1.16, 1.26, 1.36], [10.11, 1.15, 1.25, 1.35],
  [10.2, 2.4, 2.7, 2.95], [10.26, 2.7, 2.85, 3.0], [10.32, 2.6, 2.72, 2.84], [10.39, 2.4, 2.52, 2.64],
  [10.46, 2.3, 2.4, 2.5], [10.53, 2.22, 2.32, 2.42], [10.6, 2.14, 2.24, 2.34], [10.67, 2.06, 2.16, 2.26],
  [10.74, 1.98, 2.08, 2.18], [10.81, 1.92, 2.01, 2.1], [10.88, 1.88, 1.97, 2.06], [10.95, 1.84, 1.93, 2.02],
  [11.02, 1.8, 1.89, 1.98], [11.09, 1.76, 1.85, 1.94], [11.16, 1.73, 1.82, 1.91], [11.23, 1.7, 1.79, 1.88],
  [11.3, 1.67, 1.76, 1.85], [11.37, 1.64, 1.73, 1.82], [11.44, 1.61, 1.7, 1.79], [11.51, 1.58, 1.67, 1.76],
  [11.58, 1.55, 1.64, 1.73], [11.65, 1.52, 1.61, 1.7], [11.72, 1.49, 1.58, 1.67], [11.79, 1.46, 1.55, 1.64],
  [11.86, 1.44, 1.53, 1.62], [11.93, 1.42, 1.51, 1.6], [12.0, 1.4, 1.49, 1.58], [12.07, 1.37, 1.46, 1.55],
  [12.14, 1.34, 1.43, 1.52], [12.21, 1.31, 1.4, 1.49], [12.28, 1.28, 1.37, 1.46], [12.35, 1.25, 1.34, 1.43],
  [12.42, 1.22, 1.31, 1.4], [12.49, 1.19, 1.28, 1.37], [12.56, 1.16, 1.25, 1.34], [12.63, 1.12, 1.21, 1.3],
  [12.7, 1.08, 1.17, 1.26], [12.77, 1.04, 1.13, 1.22], [12.84, 1.0, 1.09, 1.18], [12.91, 0.96, 1.05, 1.14],
  [12.98, 0.92, 1.01, 1.1], [13.05, 0.86, 0.95, 1.04], [13.12, 0.8, 0.89, 0.98], [13.19, 0.76, 0.85, 0.94],
  [13.26, 0.64, 0.74, 0.84], [13.36, 0.62, 0.72, 0.84], [13.46, 0.64, 0.74, 0.86], [13.56, 0.62, 0.72, 0.82],
  [13.66, 0.6, 0.72, 0.84], [13.76, 0.64, 0.74, 0.86], [13.86, 0.62, 0.73, 0.83], [13.96, 0.6, 0.72, 0.84],
  [14.06, 0.64, 0.74, 0.85], [14.16, 0.62, 0.73, 0.84], [14.26, 0.6, 0.72, 0.82], [14.36, 0.63, 0.74, 0.86],
  [14.46, 0.61, 0.72, 0.83], [14.56, 0.6, 0.71, 0.82], [14.66, 0.62, 0.73, 0.85], [14.76, 0.6, 0.72, 0.83],
  [14.86, 0.62, 0.73, 0.84], [14.96, 0.6, 0.71, 0.82], [15.06, 0.62, 0.73, 0.85], [15.16, 0.6, 0.71, 0.82],
  [15.26, 0.61, 0.72, 0.84], [15.36, 0.6, 0.71, 0.83], [15.46, 0.62, 0.73, 0.84], [15.56, 0.6, 0.71, 0.82],
  [15.66, 0.61, 0.72, 0.83], [15.76, 0.6, 0.7, 0.82], [15.86, 0.58, 0.7, 0.82], [15.96, 0.6, 0.71, 0.83],
  [16.06, 0.58, 0.69, 0.8], [16.16, 0.6, 0.7, 0.82], [16.26, 0.57, 0.68, 0.8], [16.5, 0.6],
  [16.8, 0.55], [17.2, 0.5, 0.62], [17.25, 0.45, 0.58],
];

const monoterpeneRows = [
  [0.02, 4.1, 4.2, 4.3], [0.08, 4.08, 4.16, 4.24], [0.14, 4.12, 4.2, 4.28], [0.21, 4.14, 4.22, 4.3],
  [0.28, 4.12, 4.2, 4.28], [0.35, 4.1, 4.18, 4.26], [0.42, 4.08, 4.15, 4.22], [0.49, 4.04, 4.11, 4.18],
  [0.56, 4.0, 4.07, 4.14], [0.63, 3.97, 4.04, 4.11], [0.7, 3.94, 4.01, 4.08], [0.77, 3.92, 3.98, 4.05],
  [0.84, 3.89, 3.95, 4.02], [0.91, 3.86, 3.92, 3.99], [0.98, 3.83, 3.89, 3.96], [1.05, 3.8, 3.86, 3.93],
  [1.12, 3.76, 3.82, 3.89], [1.19, 3.72, 3.78, 3.85], [1.26, 3.68, 3.75, 3.82], [1.33, 3.64, 3.71, 3.78],
  [1.4, 3.6, 3.67, 3.74], [1.47, 3.56, 3.63, 3.7], [1.54, 3.52, 3.59, 3.66], [1.61, 3.48, 3.55, 3.62],
  [1.68, 3.42, 3.5, 3.58], [1.75, 3.34, 3.42, 3.5], [1.8, 3.3, 3.38, 3.46], [1.86, 3.5, 3.58, 3.66],
  [1.92, 3.44, 3.52, 3.6], [1.99, 3.4, 3.48, 3.56], [2.06, 3.37, 3.45, 3.53], [2.13, 3.34, 3.42, 3.5],
  [2.2, 3.32, 3.4, 3.48], [2.27, 3.3, 3.38, 3.46], [2.34, 3.28, 3.36, 3.44], [2.41, 3.26, 3.34, 3.42],
  [2.48, 3.24, 3.32, 3.4], [2.55, 3.22, 3.3, 3.38], [2.62, 3.2, 3.28, 3.36], [2.69, 3.18, 3.26, 3.34],
  [2.76, 3.16, 3.24, 3.32], [0.3, 3.7], [2.2, 2.9], [2.6, 2.75], [2.75, 2.95, 3.0], [2.45, 3.05],
  [3.0, 2.82, 2.9, 2.98], [3.08, 2.84, 2.92, 3.0], [3.16, 2.86, 2.94, 3.02], [3.24, 2.88, 2.96, 3.04],
  [3.32, 2.9, 2.98, 3.06], [3.4, 2.94, 3.02, 3.1], [3.48, 2.96, 3.04, 3.12], [3.56, 2.98, 3.06, 3.14],
  [3.64, 3.02, 3.1, 3.18], [3.72, 3.06, 3.14, 3.22], [3.8, 3.1, 3.18, 3.26], [3.88, 3.14, 3.22, 3.3],
  [3.96, 3.18, 3.26, 3.34], [4.04, 3.24, 3.32, 3.4], [4.12, 3.3, 3.38, 3.46], [4.2, 3.38, 3.46, 3.54],
  [4.28, 3.46, 3.54, 3.62], [4.36, 3.54, 3.62, 3.7], [4.44, 3.62, 3.7, 3.78], [4.52, 3.7, 3.78, 3.86],
  [4.6, 3.78, 3.86, 3.94], [4.68, 3.88, 3.96, 4.04], [4.74, 3.95, 4.04, 4.12], [4.76, 4.1, 4.2],
  [4.8, 3.55, 3.63, 3.71], [4.9, 3.54, 3.62, 3.7], [5.0, 3.54, 3.61, 3.68], [5.1, 3.55, 3.62, 3.69],
  [5.2, 3.56, 3.63, 3.7], [5.3, 3.57, 3.64, 3.71], [5.4, 3.58, 3.65, 3.72], [5.5, 3.59, 3.66, 3.73],
  [5.6, 3.6, 3.67, 3.74], [5.7, 3.61, 3.68, 3.75], [5.8, 3.62, 3.69, 3.76], [5.9, 3.62, 3.69, 3.76],
  [6.0, 3.61, 3.68, 3.75], [6.1, 3.6, 3.67, 3.74], [6.2, 3.58, 3.65, 3.72], [6.3, 3.57, 3.64, 3.71],
  [6.4, 3.55, 3.62, 3.69], [6.5, 3.53, 3.6, 3.67], [6.6, 3.49, 3.56, 3.63], [6.7, 3.45, 3.52, 3.59],
  [6.8, 3.41, 3.48, 3.55], [6.9, 3.37, 3.44, 3.51], [7.0, 3.33, 3.4, 3.47], [7.1, 3.31, 3.38, 3.45],
  [7.2, 3.29, 3.36, 3.43], [7.3, 3.27, 3.34, 3.41], [7.4, 3.25, 3.32, 3.39], [7.5, 3.23, 3.3, 3.37],
  [7.6, 3.21, 3.28, 3.35], [7.7, 3.19, 3.26, 3.33], [7.8, 3.17, 3.24, 3.31], [7.9, 3.15, 3.22, 3.29],
  [7.98, 3.13, 3.2, 3.27], [5.9, 3.2], [6.2, 3.0], [6.1, 2.8], [7.5, 2.95], [6.39, 3.27],
  [8.04, 3.12, 3.2, 3.28], [8.12, 3.14, 3.22, 3.3], [8.2, 3.16, 3.24, 3.32], [8.28, 3.18, 3.26, 3.34],
  [8.36, 3.2, 3.28, 3.36], [8.44, 3.23, 3.31, 3.39], [8.52, 3.26, 3.34, 3.42], [8.6, 3.3, 3.38, 3.46],
  [8.68, 3.34, 3.42, 3.5], [8.76, 3.37, 3.45, 3.53], [8.84, 3.38, 3.46, 3.54], [8.92, 3.37, 3.45, 3.53],
  [9.0, 3.35, 3.43, 3.51], [9.08, 3.32, 3.4, 3.48], [9.16, 3.28, 3.36, 3.44], [9.24, 3.22, 3.3, 3.38],
  [9.32, 3.14, 3.22, 3.3], [9.4, 3.04, 3.12, 3.2], [9.48, 2.92, 3.0, 3.08], [9.56, 2.8, 2.88, 2.96],
  [9.64, 2.68, 2.76, 2.84], [9.72, 2.58, 2.66, 2.74], [9.8, 2.52, 2.6, 2.68], [9.88, 2.5, 2.58, 2.66],
  [9.96, 2.5, 2.58, 2.66], [10.04, 2.52, 2.6, 2.68], [10.12, 2.55, 2.63, 2.71], [8.7, 3.0], [9.3, 2.85],
  [9.7, 2.4], [10.1, 2.35],
  [10.2, 3.1, 3.35, 3.6], [10.25, 3.6, 3.72, 3.84], [10.32, 3.5, 3.6, 3.7], [10.39, 3.42, 3.5, 3.58],
  [10.46, 3.36, 3.44, 3.52], [10.53, 3.3, 3.38, 3.46], [10.6, 3.24, 3.32, 3.4], [10.67, 3.16, 3.24, 3.32],
  [10.74, 2.94, 3.02, 3.1], [10.81, 2.84, 2.92, 3.0], [10.9, 2.82, 2.9, 2.98], [11.0, 2.8, 2.88, 2.96],
  [11.1, 2.78, 2.86, 2.94], [11.2, 2.76, 2.84, 2.92], [11.3, 2.74, 2.82, 2.9], [11.4, 2.72, 2.8, 2.88],
  [11.5, 2.7, 2.78, 2.86], [11.6, 2.68, 2.76, 2.84], [11.7, 2.66, 2.74, 2.82], [11.8, 2.64, 2.72, 2.8],
  [11.9, 2.62, 2.7, 2.78], [12.0, 2.6, 2.68, 2.76], [12.1, 2.58, 2.66, 2.74], [12.2, 2.55, 2.63, 2.71],
  [12.3, 2.52, 2.6, 2.68], [12.4, 2.49, 2.57, 2.65], [12.5, 2.46, 2.54, 2.62], [12.6, 2.43, 2.51, 2.59],
  [12.7, 2.4, 2.48, 2.56], [12.8, 2.37, 2.45, 2.53], [12.9, 2.33, 2.41, 2.49], [13.0, 2.22, 2.3, 2.38],
  [13.1, 2.18, 2.26, 2.34], [13.2, 2.17, 2.25, 2.33], [13.3, 2.16, 2.24, 2.32], [13.4, 2.16, 2.24, 2.32],
  [13.5, 2.15, 2.23, 2.31], [13.6, 2.16, 2.24, 2.32], [13.7, 2.15, 2.23, 2.31], [13.8, 2.14, 2.22, 2.3],
  [13.9, 2.15, 2.23, 2.31], [14.0, 2.13, 2.21, 2.29], [14.1, 2.14, 2.22, 2.3], [14.2, 2.12, 2.2, 2.28],
  [14.3, 2.13, 2.21, 2.29], [14.4, 2.11, 2.19, 2.27], [14.5, 2.12, 2.2, 2.28], [14.6, 2.1, 2.18, 2.26],
  [14.7, 2.11, 2.19, 2.27], [14.8, 2.09, 2.17, 2.25], [14.9, 2.1, 2.18, 2.26], [15.0, 2.08, 2.16, 2.24],
  [15.1, 2.09, 2.17, 2.25], [15.2, 2.07, 2.15, 2.23], [15.3, 2.08, 2.16, 2.24], [15.4, 2.06, 2.14, 2.22],
  [15.5, 2.07, 2.15, 2.23], [15.6, 2.05, 2.13, 2.21], [15.7, 2.06, 2.14, 2.22], [15.8, 2.04, 2.12, 2.2],
  [15.9, 2.05, 2.13, 2.21], [16.0, 2.04, 2.12, 2.2], [16.1, 2.05, 2.13, 2.21], [16.2, 2.03, 2.11, 2.19],
  [16.3, 2.04, 2.12, 2.2], [16.4, 2.03, 2.11, 2.19], [16.5, 2.04, 2.12, 2.2], [16.6, 2.03, 2.11, 2.19],
  [16.7, 2.04, 2.12, 2.2], [16.8, 2.03, 2.11, 2.19], [16.9, 2.04, 2.12, 2.2], [17.0, 2.02, 2.1, 2.18],
  [17.1, 1.92, 2.0, 2.08], [17.2, 1.94, 2.02, 2.1], [17.26, 1.92, 2.0, 2.08], [11.0, 2.5], [11.8, 2.4],
  [13.5, 1.95], [14.4, 1.85], [15.8, 1.9], [16.2, 1.8], [12.9, 2.1],
];

// rows hold log10 readings -> points in mg/hour; rows with 3+ readings are band readings
const toPoints = (rows: number[][]) =>
  rows.flatMap(([x, ...logs]) => logs.map((l) => ({ x, y: Math.pow(10, l), band: logs.length >= 3 })));

const series = [
  { name: 'formic acid + ethanol', points: toPoints([...formicRows, ...formicStray]), color: '#ee1414', text: '#cc2020', w: 4, h: 8, key: 3 },
  { name: 'methanol', points: toPoints(methanolRows), color: '#1c4fe6', text: '#2244c8', w: 6, h: 12, key: 6 },
  { name: 'acetic acid', points: toPoints(aceticRows), color: '#f052d8', text: '#e05cd6', w: 5, h: 12, key: 5 },
  { name: 'acetone', points: toPoints(acetoneRows), color: '#ffa30f', text: '#eca62a', w: 5, h: 13, key: 5 },
  { name: 'monoterpenes', points: toPoints(monoterpeneRows), color: '#22ee22', text: '#30d834', w: 5, h: 12, key: 5 },
];

const tempPoints = tempDays.map((x, i) => ({ x, t: tempF[i] }));

const marker = (w: number, h: number, color: string) => (props: any) => {
  const { cx, cy, payload } = props;
  if (cx == null || cy == null) return <g />;
  const hh = payload && payload.band ? h : w;
  return <rect x={cx - w / 2} y={cy - hh / 2} width={w} height={hh} fill={color} />;
};

const isDecade = (v: number) => Math.abs(Math.log10(v) - Math.round(Math.log10(v))) < 1e-9;

const LeftTick = ({ x, y, payload }: any) => {
  const major = isDecade(payload.value);
  return (
    <g>
      <line x1={x - (major ? 19 : 10)} x2={x} y1={y} y2={y} stroke="#000" strokeWidth={2} />
      {major && (
        <>
          <text x={x - 43} y={y + 15} textAnchor="end" fontSize={26} fontFamily={FONT} fill="#000">10</text>
          <text x={x - 43} y={y - 2} textAnchor="start" fontSize={19} fontFamily={FONT} fill="#000">
            {Math.round(Math.log10(payload.value))}
          </text>
        </>
      )}
    </g>
  );
};

const RightTick = ({ x, y, payload }: any) => (
  <g>
    <line x1={x - 9} x2={x + 9} y1={y} y2={y} stroke="#000" strokeWidth={2} />
    <text x={x + 22} y={y + 10} fontSize={26} fontFamily={FONT} fill="#000">{payload.value}</text>
  </g>
);

const BottomTick = ({ x, y, payload }: any) => (
  <g>
    <line x1={x} x2={x} y1={y - 9} y2={y + 9} stroke="#000" strokeWidth={2} />
    <text x={x} y={y + 45} textAnchor="middle" fontSize={26} fontFamily={FONT} fill="#000">{payload.value}</text>
  </g>
);

const TopTick = ({ x, y }: any) => (
  <line x1={x} x2={x} y1={y - 9} y2={y + 9} stroke="#000" strokeWidth={2} />
);

const renderLegend = () => (
  <div
    style={{
      position: 'relative', width: 305, height: 155, boxSizing: 'border-box', border: '2px solid #000',
      background: '#fff', fontFamily: FONT,
    }}
  >
    {series.map((s, i) => {
      const cy = 16 + i * 29.6;
      return (
        <div key={s.name}>
          <div
            style={{
              position: 'absolute', left: 31.7 - s.key / 2, top: cy - s.key / 2,
              width: s.key, height: s.key, background: s.color,
            }}
          />
          <div
            style={{
              position: 'absolute', left: 66.7, top: cy - 15, height: 30, lineHeight: '30px',
              fontSize: 25, color: s.text, whiteSpace: 'nowrap',
            }}
          >
            {s.name}
          </div>
        </div>
      );
    })}
  </div>
);

const axisLine = { stroke: '#000', strokeWidth: 2 };

export default function App() {
  return (
    <div style={{ position: 'absolute', left: 0, top: 0, width: 1120, height: 1016, background: '#fff' }}>
      <ComposedChart width={1120} height={1016} margin={{ top: 0, right: 0, bottom: 0, left: 0 }}>
        <XAxis
          xAxisId="x" type="number" dataKey="x" domain={[0, 17.27]} ticks={dayTicks} interval={0}
          allowDataOverflow height={104} tickSize={0} tickMargin={0} tickLine={false}
          axisLine={axisLine} tick={(p: any) => <BottomTick {...p} />}
        />
        <XAxis
          xAxisId="top" orientation="top" type="number" dataKey="x" domain={[0, 17.27]} ticks={dayTicks}
          interval={0} allowDataOverflow height={20} tickSize={0} tickMargin={0} tickLine={false}
          axisLine={axisLine} tick={(p: any) => <TopTick {...p} />}
        />
        <YAxis
          yAxisId="rate" dataKey="y" scale="log" domain={[1, 5e6]} ticks={rateTicks} interval={0}
          allowDataOverflow width={133} tickSize={0} tickMargin={0} tickLine={false}
          axisLine={axisLine} tick={(p: any) => <LeftTick {...p} />}
        />
        <YAxis
          yAxisId="temp" orientation="right" type="number" domain={[60, 160]} ticks={tempTicks} interval={0}
          allowDataOverflow width={121} tickSize={0} tickMargin={0} tickLine={false}
          axisLine={axisLine} tick={(p: any) => <RightTick {...p} />}
        />
        {series.map((s) => (
          <Scatter
            key={s.name} name={s.name} data={s.points} xAxisId="x" yAxisId="rate" dataKey="y"
            shape={marker(s.w, s.h, s.color)} isAnimationActive={false}
          />
        ))}
        <Line
          data={tempPoints} xAxisId="x" yAxisId="temp" dataKey="t" type="linear" stroke="#e81c1c"
          strokeWidth={4} dot={false} activeDot={false} isAnimationActive={false}
        />
        <Legend
          layout="vertical" align="center" verticalAlign="middle" content={renderLegend}
          wrapperStyle={{ left: 683, top: 77, width: 305, height: 155 }}
        />
      </ComposedChart>
      <svg
        width={1120} height={1016}
        style={{ position: 'absolute', left: 0, top: 0, pointerEvents: 'none' }}
      >
        <text x={571.6} y={1009} textAnchor="middle" fontSize={31} fontFamily={FONT} fill="#000">
          Pile Age (days)
        </text>
        <text transform="translate(40, 448.5) rotate(-90)" textAnchor="middle" fontSize={32} fontFamily={FONT} fill="#000">
          Duct Emission Rate (mg / hour)
        </text>
        <text transform="translate(1111, 466) rotate(-90)" textAnchor="middle" fontSize={32} fontFamily={FONT} fill="#000">
          Pile Temperature (F)
        </text>
        <text x={157} y={876} fontSize={31} fontFamily={FONT} fill="#000">Zone 1</text>
      </svg>
    </div>
  );
}
